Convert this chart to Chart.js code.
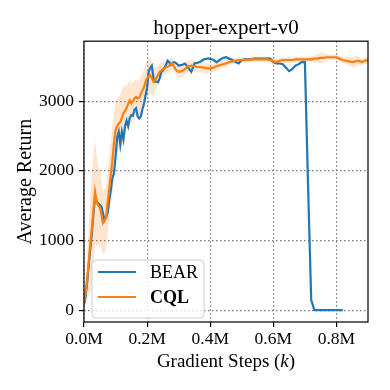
<!DOCTYPE html>
<html>
<head>
<meta charset="utf-8">
<script src="https://cdn.jsdelivr.net/npm/chart.js@4.4.1/dist/chart.umd.min.js"></script>
<style>
  html, body { margin: 0; padding: 0; background: #fff; }
  #wrap { width: 390px; height: 390px; }
</style>
</head>
<body>
<div id="wrap"><canvas id="myChart" width="390" height="390"></canvas></div>
<script>
// gradient steps in millions
const steps = [
  0, 0.005, 0.01, 0.015, 0.02, 0.025, 0.03, 0.035, 0.04, 0.045,
  0.05, 0.055, 0.06, 0.065, 0.07, 0.075, 0.08, 0.085, 0.09, 0.095,
  0.1, 0.105, 0.11, 0.115, 0.12, 0.125, 0.13, 0.135, 0.14, 0.145,
  0.15, 0.155, 0.16, 0.165, 0.17, 0.175, 0.18, 0.185, 0.19, 0.195,
  0.2, 0.205, 0.21, 0.215, 0.22, 0.225, 0.23, 0.235, 0.24, 0.245,
  0.25, 0.255, 0.26, 0.265, 0.27, 0.275, 0.28, 0.285, 0.29, 0.295,
  0.3, 0.31, 0.32, 0.33, 0.34, 0.35, 0.36, 0.37, 0.38, 0.39,
  0.4, 0.41, 0.42, 0.43, 0.44, 0.45, 0.46, 0.47, 0.48, 0.49,
  0.5, 0.51, 0.52, 0.53, 0.54, 0.55, 0.56, 0.57, 0.58, 0.59,
  0.6, 0.61, 0.62, 0.63, 0.64, 0.65, 0.66, 0.67, 0.68, 0.69,
  0.7, 0.71, 0.72, 0.73, 0.74, 0.75, 0.76, 0.77, 0.78, 0.79,
  0.8, 0.81, 0.82, 0.83, 0.84, 0.85, 0.86, 0.87, 0.88, 0.89,
  0.9
];

const bearReturn = [
  80, 200, 400, 650, 880, 1100, 1380, 1620, 1560, 1530,
  1510, 1490, 1390, 1290, 1330, 1400, 1580, 1720, 1900, 1960,
  2200, 2480, 2560, 2380, 2560, 2450, 2640, 2720, 2640, 2760,
  2800, 2790, 2880, 2900, 2780, 2750, 2780, 2880, 2960, 3080,
  3200, 3420, 3480, 3510, 3330, 3280, 3280, 3270, 3330, 3420,
  3440, 3480, 3520, 3580, 3560, 3520, 3550, 3560, 3550, 3530,
  3510, 3520, 3540, 3480, 3420, 3540, 3550, 3570, 3600, 3610,
  3610, 3590, 3560, 3590, 3620, 3630, 3610, 3590, 3560, 3540,
  3590, 3600, 3600, 3600, 3610, 3610, 3610, 3610, 3610, 3610,
  3560, 3540, 3540, 3530, 3480, 3430, 3460, 3510, 3530, 3560,
  3560, 1800, 150, 0, 0, 0, 0, 0, 0, 0,
  0, 0, 0
];

const cqlReturn = [
  100, 250, 450, 700, 950, 1190, 1450, 1700, 1560, 1500,
  1480, 1380, 1250, 1280, 1330, 1550, 1750, 1950, 2150, 2400,
  2580, 2640, 2680, 2700, 2760, 2830, 2860, 2900, 2960, 3010,
  2970, 3000, 3040, 3060, 3040, 3050, 3100, 3150, 3200, 3280,
  3330, 3350, 3370, 3330, 3280, 3300, 3340, 3380, 3420, 3440,
  3460, 3470, 3490, 3490, 3510, 3530, 3540, 3500, 3460, 3430,
  3420, 3430, 3460, 3500, 3510, 3500, 3490, 3490, 3480, 3470,
  3470, 3480, 3500, 3515, 3530, 3540, 3560, 3570, 3580, 3590,
  3590, 3590, 3590, 3600, 3600, 3600, 3600, 3600, 3600, 3590,
  3570, 3560, 3580, 3590, 3590, 3590, 3590, 3600, 3600, 3600,
  3600, 3600, 3600, 3610, 3610, 3620, 3620, 3630, 3630, 3630,
  3630, 3610, 3590, 3580, 3570, 3560, 3570, 3580, 3560, 3580,
  3590
];

const cqlStd = [
  50, 150, 300, 500, 700, 800, 800, 750, 650, 550,
  550, 500, 450, 450, 450, 450, 450, 450, 500, 450,
  400, 380, 380, 380, 400, 400, 350, 320, 300, 300,
  280, 280, 250, 250, 250, 250, 250, 250, 250, 250,
  260, 260, 260, 240, 200, 180, 150, 130, 120, 110,
  100, 100, 100, 90, 90, 90, 80, 80, 80, 80,
  80, 80, 80, 80, 80, 80, 80, 70, 70, 70,
  70, 60, 60, 60, 50, 50, 40, 40, 40, 40,
  40, 40, 40, 40, 40, 40, 40, 40, 40, 40,
  50, 50, 40, 40, 40, 40, 40, 40, 40, 40,
  40, 40, 40, 50, 60, 80, 70, 50, 40, 40,
  40, 40, 50, 50, 60, 70, 80, 60, 50, 50,
  50
];

const xTicks = [0, 0.2, 0.4, 0.6, 0.8];
const yTicks = [0, 1000, 2000, 3000];

const toPoints = (vals) => vals.map((v, i) => ({ x: steps[i], y: v }));

const SERIF = "'Liberation Serif', 'DejaVu Serif', serif";
Chart.defaults.font.family = SERIF;
Chart.defaults.color = '#000';

// frame around the plot (matplotlib spines)
const framePlugin = {
    id: 'frame',
    afterDraw(chart) {
        const { ctx, chartArea: a } = chart;
        ctx.save();
        ctx.strokeStyle = '#111';
        ctx.lineWidth = 1.3;
        ctx.strokeRect(a.left, a.top, a.right - a.left, a.bottom - a.top);
        ctx.restore();
    }
};

// legend box in the lower-left corner
const legendPlugin = {
    id: 'innerLegend',
    afterDraw(chart) {
        const { ctx, chartArea: a } = chart;
        const x0 = a.left + 8, y0 = a.bottom - 62, w = 112, h = 58;
        ctx.save();
        ctx.fillStyle = 'rgba(255,255,255,0.8)';
        ctx.strokeStyle = '#cccccc';
        ctx.lineWidth = 1;
        ctx.beginPath();
        ctx.roundRect(x0, y0, w, h, 4);
        ctx.fill();
        ctx.stroke();
        const items = [
            { label: 'BEAR', color: '#1f77b4', bold: false },
            { label: 'CQL', color: '#ff7f0e', bold: true }
        ];
        items.forEach((it, i) => {
            const y = y0 + 12 + i * 25;
            ctx.strokeStyle = it.color;
            ctx.lineWidth = 2.2;
            ctx.beginPath();
            ctx.moveTo(x0 + 6, y);
            ctx.lineTo(x0 + 44, y);
            ctx.stroke();
            ctx.fillStyle = '#000';
            ctx.font = (it.bold ? 'bold ' : '') + '18px ' + SERIF;
            ctx.textBaseline = 'middle';
            ctx.textAlign = 'left';
            ctx.fillText(it.label, x0 + 58, y + 1);
        });
        ctx.restore();
    }
};

// x axis title with italic k
const xTitlePlugin = {
    id: 'xTitle',
    afterDraw(chart) {
        const { ctx, chartArea: a } = chart;
        const parts = [
            { t: 'Gradient Steps (', f: '19px ' + SERIF },
            { t: 'k', f: 'italic 19px ' + SERIF },
            { t: ')', f: '19px ' + SERIF }
        ];
        ctx.save();
        let total = 0;
        parts.forEach(p => { ctx.font = p.f; p.w = ctx.measureText(p.t).width; total += p.w; });
        let x = (a.left + a.right) / 2 - total / 2;
        ctx.fillStyle = '#000';
        ctx.textBaseline = 'middle';
        ctx.textAlign = 'left';
        parts.forEach(p => { ctx.font = p.f; ctx.fillText(p.t, x, 362); x += p.w; });
        ctx.restore();
    }
};

const ctx = document.getElementById('myChart').getContext('2d');
new Chart(ctx, {
    type: 'line',
    data: {
        datasets: [
            {
                label: 'CQL',
                data: toPoints(cqlReturn),
                borderColor: '#ff7f0e',
                borderWidth: 2.2,
                pointRadius: 0,
                fill: false,
                order: 1
            },
            {
                label: 'BEAR',
                data: toPoints(bearReturn),
                borderColor: '#1f77b4',
                borderWidth: 2.2,
                pointRadius: 0,
                fill: false,
                order: 2
            },
            {
                label: 'CQL upper',
                data: toPoints(cqlReturn.map((v, i) => v + cqlStd[i])),
                borderWidth: 0,
                borderColor: 'rgba(0,0,0,0)',
                pointRadius: 0,
                backgroundColor: 'rgba(255,127,14,0.2)',
                fill: '+1',
                order: 3
            },
            {
                label: 'CQL lower',
                data: toPoints(cqlReturn.map((v, i) => v - cqlStd[i])),
                borderWidth: 0,
                borderColor: 'rgba(0,0,0,0)',
                pointRadius: 0,
                fill: false,
                order: 3
            }
        ]
    },
    options: {
        responsive: false,
        animation: false,
        layout: { padding: { left: 0, right: 22, top: 0, bottom: 0 } },
        plugins: {
            legend: { display: false },
            tooltip: { enabled: false },
            title: {
                display: true,
                text: 'hopper-expert-v0',
                fullSize: false,
                font: { size: 21, weight: 'normal', lineHeight: 1.2 },
                padding: { top: 16, bottom: 0 },
                color: '#000'
            }
        },
        scales: {
            x: {
                type: 'linear',
                min: 0,
                max: 0.9,
                afterFit: (s) => { s.height = 68; },
                afterBuildTicks: (s) => { s.ticks = xTicks.map(v => ({ value: v })); },
                grid: {
                    color: '#777',
                    lineWidth: 1.2,
                    tickLength: 5,
                    tickColor: '#000',
                    tickWidth: 1.2
                },
                border: { display: false, dash: [1.5, 2.5] },
                ticks: {
                    font: { size: 17.5 },
                    color: '#000',
                    padding: 2,
                    maxRotation: 0,
                    callback: (v) => v.toFixed(1) + 'M'
                }
            },
            y: {
                min: -170,
                max: 3860,
                afterFit: (s) => { s.width = 84; },
                afterBuildTicks: (s) => { s.ticks = yTicks.map(v => ({ value: v })); },
                grid: {
                    color: '#777',
                    lineWidth: 1.2,
                    tickLength: 5,
                    tickColor: '#000',
                    tickWidth: 1.2
                },
                border: { display: false, dash: [1.5, 2.5] },
                ticks: {
                    font: { size: 17.5 },
                    color: '#000',
                    padding: 5,
                    callback: (v) => String(v)
                },
                title: {
                    display: true,
                    text: 'Average Return',
                    font: { size: 20 },
                    color: '#000',
                    padding: { top: 14, bottom: 0 }
                }
            }
        }
    },
    plugins: [framePlugin, legendPlugin, xTitlePlugin]
});
</script>
</body>
</html>
